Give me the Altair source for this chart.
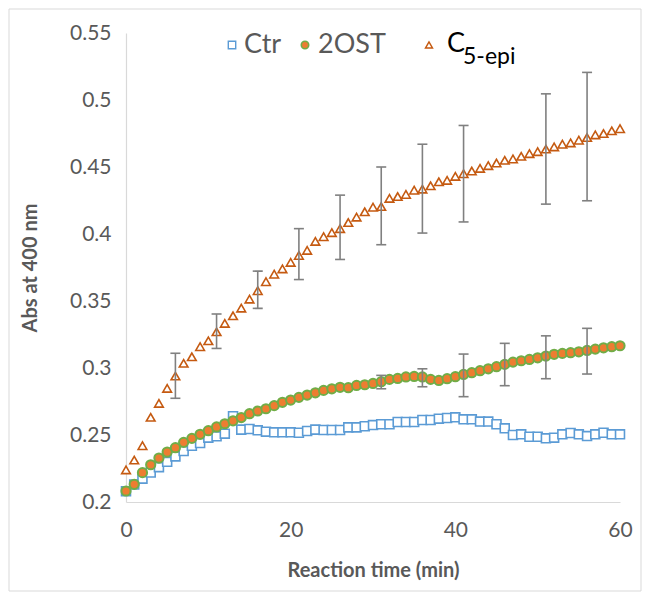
import altair as alt
import pandas as pd

# ---------------- data ----------------
times = list(range(0, 61))

ctr = [0.208, 0.213, 0.2174, 0.222, 0.226, 0.230, 0.234, 0.238, 0.242, 0.244,
       0.248, 0.249, 0.251, 0.264, 0.254, 0.2545, 0.2535, 0.2525, 0.252, 0.252,
       0.252, 0.2517, 0.253, 0.254, 0.2537, 0.2537, 0.2537, 0.2557, 0.2557, 0.2565,
       0.2574, 0.258, 0.258, 0.2597, 0.2597, 0.2597, 0.2612, 0.2612, 0.2622, 0.2627,
       0.2632, 0.2617, 0.2617, 0.260, 0.260, 0.258, 0.255, 0.250, 0.2505, 0.2487,
       0.2487, 0.2475, 0.248, 0.2505, 0.2515, 0.2505, 0.2492, 0.2505, 0.2517, 0.2505,
       0.2505]

ost2 = [0.2082, 0.2132, 0.2219, 0.2278, 0.2328, 0.2373, 0.2405, 0.2445, 0.2475, 0.2505,
        0.2532, 0.256, 0.2584, 0.2606, 0.263, 0.2659, 0.2679, 0.2696, 0.2719, 0.2744,
        0.2761, 0.2781, 0.2798, 0.2815, 0.2833, 0.2845, 0.2856, 0.2853, 0.287, 0.2875,
        0.2885, 0.2898, 0.2915, 0.2922, 0.2933, 0.2937, 0.2933, 0.2915, 0.2907, 0.292,
        0.2935, 0.2952, 0.2965, 0.298, 0.2994, 0.301, 0.3027, 0.3044, 0.3054, 0.3064,
        0.3076, 0.3089, 0.3102, 0.3109, 0.3114, 0.3121, 0.3131, 0.3141, 0.3151, 0.3159,
        0.3166]

c5epi = [0.224, 0.2313, 0.242, 0.2632, 0.2736, 0.2848, 0.294, 0.3035, 0.3084, 0.3159,
         0.3203, 0.327, 0.3333, 0.339, 0.3447, 0.3514, 0.3577, 0.3644, 0.370, 0.374,
         0.3788, 0.384, 0.3878, 0.3945, 0.398, 0.401, 0.404, 0.4086, 0.4126, 0.4166,
         0.420, 0.4205, 0.4266, 0.428, 0.4295, 0.4327, 0.4335, 0.436, 0.439, 0.440,
         0.443, 0.445, 0.447, 0.449, 0.451, 0.453, 0.455, 0.456, 0.458, 0.460,
         0.4615, 0.4634, 0.465, 0.467, 0.468, 0.470, 0.472, 0.474, 0.475, 0.477,
         0.4786]

c5_err_t = [6, 11, 16, 21, 26, 31, 36, 41, 51, 56]
c5_err_lo = [0.2774, 0.3146, 0.3445, 0.366, 0.381, 0.392, 0.4007, 0.409, 0.4223, 0.4248]
c5_err_hi = [0.311, 0.3403, 0.3723, 0.404, 0.429, 0.450, 0.467, 0.481, 0.5046, 0.5206]

ost_err_t = [31, 36, 41, 46, 51, 56]
ost_err_lo = [0.2845, 0.286, 0.2786, 0.2868, 0.292, 0.2955]
ost_err_hi = [0.2945, 0.2994, 0.3104, 0.3184, 0.324, 0.3296]

x_ticks = [0, 20, 40, 60]
y_ticks = [0.2, 0.25, 0.3, 0.35, 0.4, 0.45, 0.5, 0.55]

legend_labels = ["Ctr", "2OST", "C"]
legend_sub = "5-epi"

FONT = "Lato"
W, H = 494, 469

df_ctr = pd.DataFrame({"t": times, "v": ctr})
df_ost = pd.DataFrame({"t": times, "v": ost2})
df_c5 = pd.DataFrame({"t": times, "v": c5epi})
df_c5e = pd.DataFrame({"t": c5_err_t, "lo": c5_err_lo, "hi": c5_err_hi})
df_oste = pd.DataFrame({"t": ost_err_t, "lo": ost_err_lo, "hi": ost_err_hi})

xs = alt.Scale(domain=[0, 60], nice=False, zero=False)
ys = alt.Scale(domain=[0.2, 0.55], nice=False, zero=False)

x_enc = alt.X("t:Q", scale=xs, axis=alt.Axis(
    values=x_ticks, title="Reaction time (min)", labelPadding=17, labelFlush=False,
    titleX=W / 2, titleY=68, titleBaseline="middle", titleAlign="center"))
y_enc = alt.Y("v:Q", scale=ys, axis=alt.Axis(
    values=y_ticks, format=".2~f", title="Abs at 400 nm", labelPadding=15, labelFlush=False,
    titleX=-96, titleY=H / 2, titleBaseline="middle", titleAlign="center", titleAngle=-90))

GREY_BAR = "#808080"

ctr_pts = alt.Chart(df_ctr).mark_point(
    shape="square", size=80, filled=False, fill="white", fillOpacity=1,
    stroke="#5B9BD5", strokeWidth=1.6, opacity=1
).encode(x=x_enc, y=y_enc)

ost_pts = alt.Chart(df_ost).mark_point(
    shape="circle", size=85, filled=True, fill="#ED7D31", stroke="#70AD47",
    strokeWidth=2, opacity=1
).encode(x=alt.X("t:Q", scale=xs), y=alt.Y("v:Q", scale=ys))


def errbars(df):
    base = alt.Chart(df)
    rule = base.mark_rule(color=GREY_BAR, strokeWidth=1.6).encode(
        x=alt.X("t:Q", scale=xs), y=alt.Y("lo:Q", scale=ys), y2="hi:Q")
    cap_lo = base.mark_tick(color=GREY_BAR, orient="horizontal", size=10,
                            thickness=1.6, opacity=1).encode(
        x=alt.X("t:Q", scale=xs), y=alt.Y("lo:Q", scale=ys))
    cap_hi = base.mark_tick(color=GREY_BAR, orient="horizontal", size=10,
                            thickness=1.6, opacity=1).encode(
        x=alt.X("t:Q", scale=xs), y=alt.Y("hi:Q", scale=ys))
    return rule + cap_lo + cap_hi


c5_pts = alt.Chart(df_c5).mark_point(
    shape="triangle-up", size=75, filled=False, fill="white", fillOpacity=1,
    stroke="#C55A11", strokeWidth=1.6, opacity=1
).encode(x=alt.X("t:Q", scale=xs), y=alt.Y("v:Q", scale=ys))

# ---------- custom legend (with subscript) ----------
one = pd.DataFrame({"k": [0]})
LY = 12
leg_sq = alt.Chart(one).mark_point(shape="square", size=55, filled=False,
                                   stroke="#5B9BD5", strokeWidth=1.4, opacity=1).encode(
    x=alt.value(106), y=alt.value(LY))
leg_sq_t = alt.Chart(one).mark_text(text=legend_labels[0], align="left", baseline="middle",
                                    font=FONT, fontSize=27, color="#595959").encode(
    x=alt.value(118), y=alt.value(LY))
leg_ci = alt.Chart(one).mark_point(shape="circle", size=55, filled=True, fill="#ED7D31",
                                   stroke="#70AD47", strokeWidth=1.6, opacity=1).encode(
    x=alt.value(179), y=alt.value(LY))
leg_ci_t = alt.Chart(one).mark_text(text=legend_labels[1], align="left", baseline="middle",
                                    font=FONT, fontSize=27, color="#595959").encode(
    x=alt.value(192), y=alt.value(LY))
leg_tr = alt.Chart(one).mark_point(shape="triangle-up", size=50, filled=False,
                                   stroke="#C55A11", strokeWidth=1.4, opacity=1).encode(
    x=alt.value(303), y=alt.value(LY))
leg_tr_t = alt.Chart(one).mark_text(text=legend_labels[2], align="left", baseline="middle",
                                    font=FONT, fontSize=27, color="black").encode(
    x=alt.value(321), y=alt.value(LY - 1))
leg_tr_s = alt.Chart(one).mark_text(text=legend_sub, align="left", baseline="middle",
                                    font=FONT, fontSize=23, color="black").encode(
    x=alt.value(337), y=alt.value(LY + 12))

border = alt.Chart(one).mark_rect(fill=None, stroke="#D9D9D9", strokeWidth=1).encode(
    x=alt.value(-117), x2=alt.value(W + 21), y=alt.value(-24), y2=alt.value(H + 89))

chart = alt.layer(
    border, ctr_pts, ost_pts, errbars(df_oste), c5_pts, errbars(df_c5e),
    leg_sq, leg_sq_t, leg_ci, leg_ci_t, leg_tr, leg_tr_t, leg_tr_s
).properties(
    width=W, height=H,
    autosize=alt.AutoSizeParams(type="none"),
    padding={"left": 118, "top": 25, "right": 23, "bottom": 91},
    background="white"
).configure_view(stroke=None).configure_axis(
    grid=False, ticks=False, domainColor="#D9D9D9", domainWidth=1.2,
    labelColor="#595959", labelFont=FONT, labelFontSize=21,
    titleColor="#595959", titleFont=FONT, titleFontSize=20, titleFontWeight="bold"
)

chart.save("out.html", embed_options={"renderer": "svg", "actions": False})
